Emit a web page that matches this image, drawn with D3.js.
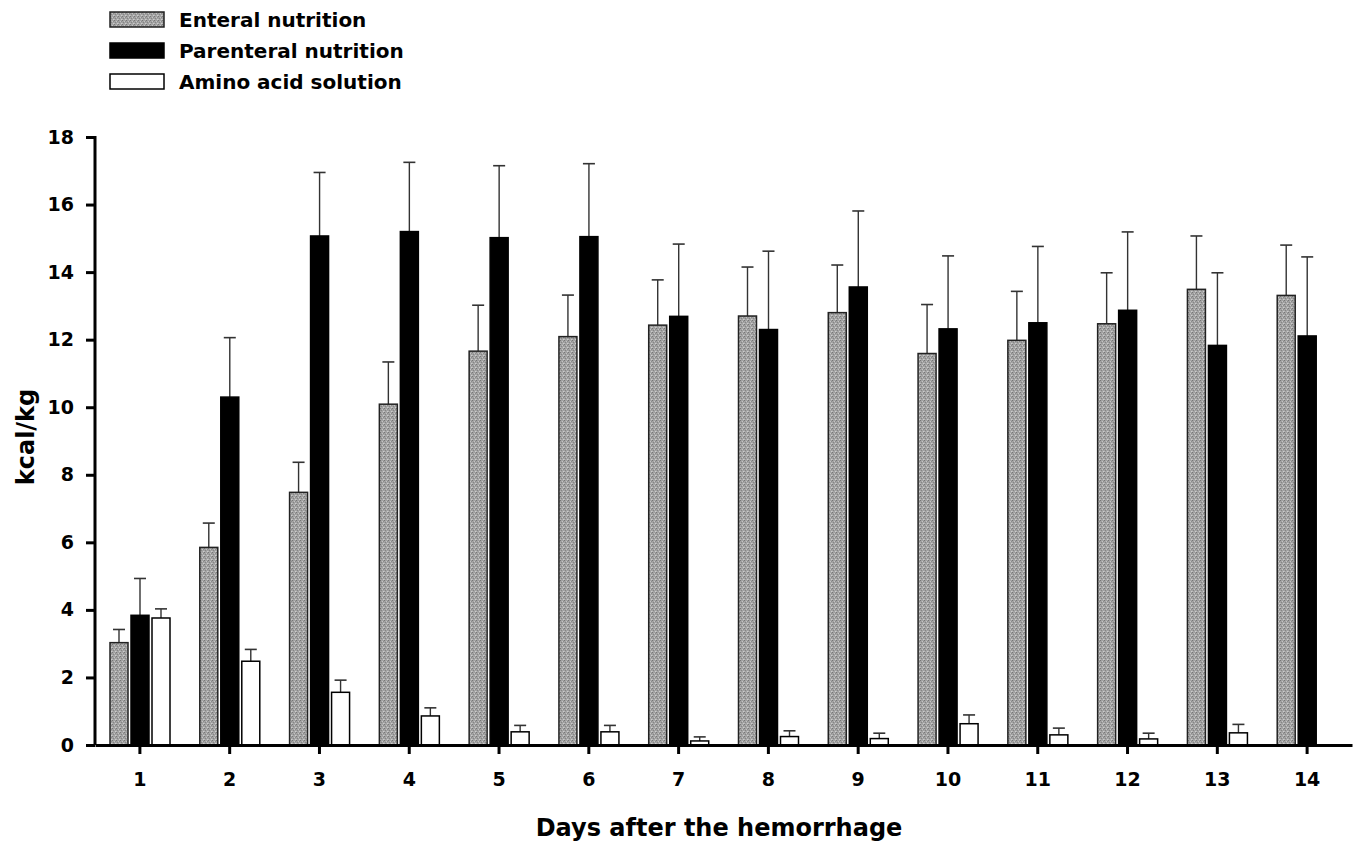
<!DOCTYPE html>
<html>
<head>
<meta charset="utf-8">
<script src="https://cdn.jsdelivr.net/npm/d3@7"></script>
<style>
  body { margin: 0; background: #fff; }
  text { font-family: "DejaVu Sans", Arial, sans-serif; font-weight: bold; }
</style>
</head>
<body>
<svg id="canvas"></svg>
<script>
let days = ["1", "2", "3", "4", "5", "6", "7", "8", "9", "10", "11", "12", "13", "14"];
let seriesNames = ["Enteral nutrition", "Parenteral nutrition", "Amino acid solution"];

// means
let enteral = [3.03, 5.85, 7.48, 10.09, 11.66, 12.09, 12.43, 12.7, 12.8, 11.59, 11.98, 12.47, 13.49, 13.31];
let parenteral = [3.84, 10.3, 15.07, 15.2, 15.02, 15.05, 12.69, 12.3, 13.56, 12.32, 12.5, 12.87, 11.83, 12.11];
let amino = [3.76, 2.48, 1.56, 0.86, 0.39, 0.39, 0.12, 0.25, 0.19, 0.63, 0.3, 0.18, 0.36, null];

// error bar heights (upper only)
let enteralErr = [0.39, 0.72, 0.89, 1.25, 1.36, 1.23, 1.34, 1.45, 1.41, 1.45, 1.45, 1.51, 1.58, 1.49];
let parenteralErr = [1.09, 1.76, 1.88, 2.05, 2.13, 2.16, 2.14, 2.32, 2.25, 2.16, 2.26, 2.32, 2.15, 2.34];
let aminoErr = [0.27, 0.35, 0.36, 0.24, 0.19, 0.19, 0.12, 0.17, 0.16, 0.26, 0.2, 0.17, 0.25, null];

let yTicks = [0, 2, 4, 6, 8, 10, 12, 14, 16, 18];

let width = 1363;
let height = 845;

let canvas = d3.select("#canvas").attr("width", width).attr("height", height);

// stipple texture for the grey bars
let defs = canvas.append("defs");
let pat = defs.append("pattern")
  .attr("id", "stipple")
  .attr("patternUnits", "userSpaceOnUse")
  .attr("width", 4).attr("height", 4);
pat.append("rect").attr("width", 4).attr("height", 4).attr("fill", "#a2a2a2");
[[0, 0, "#777"], [2, 1, "#c4c4c4"], [1, 2, "#858585"], [3, 3, "#cccccc"], [3, 1, "#8c8c8c"], [0, 3, "#b8b8b8"]]
  .forEach((d) => {
    pat.append("rect").attr("x", d[0]).attr("y", d[1]).attr("width", 1).attr("height", 1).attr("fill", d[2]);
  });

let fills = ["url(#stipple)", "#000", "#fff"];
let strokes = ["#222", "#000", "#000"];

let xScale = d3.scaleBand().domain(days).range([95, 1352]);
let inner = d3.scaleBand().domain(seriesNames).range([15, 75]).paddingInner(3 / 21);
let yScale = d3.scaleLinear().domain([0, 18]).range([745, 137]);

let rows = [];
let sets = [enteral, parenteral, amino];
let errs = [enteralErr, parenteralErr, aminoErr];
days.forEach((day, i) => {
  seriesNames.forEach((s, j) => {
    if (sets[j][i] != null) {
      rows.push({ day: day, series: s, idx: j, value: sets[j][i], err: errs[j][i] });
    }
  });
});

let cx = (d) => xScale(d.day) + inner(d.series) + inner.bandwidth() / 2;

// error bars first so the bar tops cover them
let eb = canvas.append("g").selectAll("g").data(rows).enter().append("g");
eb.append("line")
  .attr("x1", cx).attr("x2", cx)
  .attr("y1", (d) => yScale(d.value))
  .attr("y2", (d) => yScale(d.value + d.err))
  .attr("stroke", "#333").attr("stroke-width", 1.4);
eb.append("line")
  .attr("x1", (d) => cx(d) - 6)
  .attr("x2", (d) => cx(d) + 6)
  .attr("y1", (d) => yScale(d.value + d.err))
  .attr("y2", (d) => yScale(d.value + d.err))
  .attr("stroke", "#333").attr("stroke-width", 1.6);

canvas.append("g").selectAll("rect").data(rows).enter().append("rect")
  .attr("x", (d) => xScale(d.day) + inner(d.series))
  .attr("y", (d) => yScale(d.value))
  .attr("width", inner.bandwidth())
  .attr("height", (d) => yScale(0) - yScale(d.value))
  .attr("fill", (d) => fills[d.idx])
  .attr("stroke", (d) => strokes[d.idx])
  .attr("stroke-width", 1.5);

// axes
let xAxis = d3.axisBottom(xScale).tickSizeInner(9).tickSizeOuter(0).tickPadding(19);
let yAxis = d3.axisLeft(yScale).tickValues(yTicks).tickSizeInner(9).tickSizeOuter(0).tickPadding(12);

let gx = canvas.append("g").attr("transform", "translate(0,745)").call(xAxis);
let gy = canvas.append("g").attr("transform", "translate(95,0)").call(yAxis);
[gx, gy].forEach((g) => {
  g.select(".domain").attr("stroke", "#000").attr("stroke-width", 3);
  g.selectAll(".tick line").attr("stroke", "#000").attr("stroke-width", 3);
  g.selectAll(".tick text").attr("font-size", 19).attr("font-weight", "bold").attr("fill", "#000")
    .attr("font-family", "'DejaVu Sans', Arial, sans-serif");
});
gy.select(".domain").attr("d", "M0,745V136");

canvas.append("text")
  .attr("transform", "translate(34,437) rotate(-90)")
  .attr("text-anchor", "middle")
  .attr("font-size", 24)
  .text("kcal/kg");

canvas.append("text")
  .attr("x", 719).attr("y", 836)
  .attr("text-anchor", "middle")
  .attr("font-size", 24)
  .text("Days after the hemorrhage");

// legend
let legend = canvas.append("g").selectAll("g").data(seriesNames).enter().append("g")
  .attr("transform", (d, i) => "translate(110," + (12 + i * 31) + ")");
legend.append("rect")
  .attr("width", 54).attr("height", 15)
  .attr("fill", (d, i) => fills[i])
  .attr("stroke", (d, i) => strokes[i])
  .attr("stroke-width", 1.5);
legend.append("text")
  .attr("x", 69).attr("y", 15)
  .attr("font-size", 20)
  .text((d) => d);
</script>
</body>
</html>
